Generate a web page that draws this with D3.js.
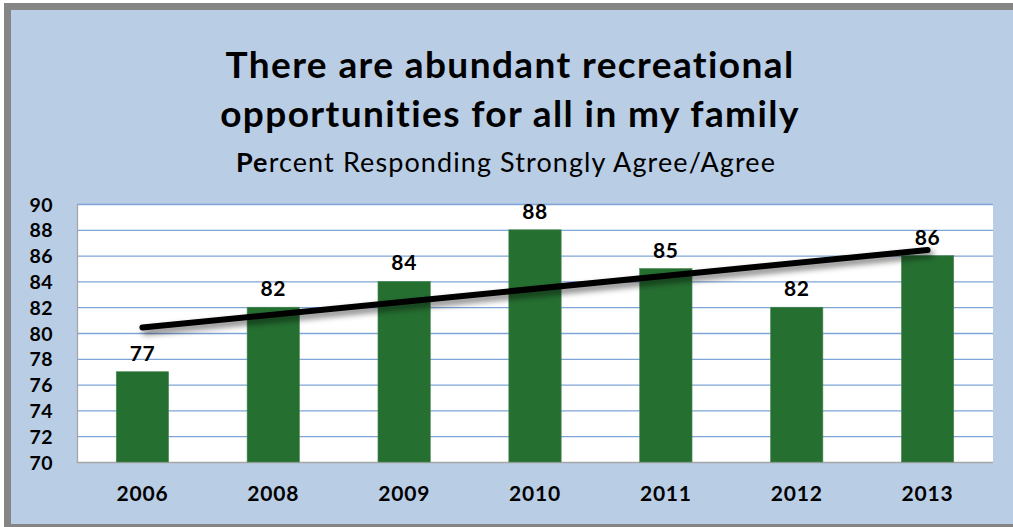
<!DOCTYPE html>
<html>
<head>
<meta charset="utf-8">
<script src="https://cdn.jsdelivr.net/npm/d3@7"></script>
<style>
  html, body { margin: 0; padding: 0; background: #ffffff; }
  svg { display: block; font-family: Lato, "Open Sans", sans-serif; }
</style>
</head>
<body>
<svg id="chart" width="1013" height="527"></svg>
<script>
// Survey results by year
const years = ["2006", "2008", "2009", "2010", "2011", "2012", "2013"];
const percentAgree = [77, 82, 84, 88, 85, 82, 86];
const yTicks = [70, 72, 74, 76, 78, 80, 82, 84, 86, 88, 90];

const titleLines = ["There are abundant recreational", "opportunities for all in my family"];
const subtitleBold = "Pe";
const subtitleRest = "rcent Responding Strongly Agree/Agree";

const W = 1013, H = 527;
const svg = d3.select("#chart");

// drop shadow for the trend line
const defs = svg.append("defs");
const f = defs.append("filter").attr("id", "shadow")
  .attr("x", "-10%").attr("y", "-200%").attr("width", "120%").attr("height", "500%");
f.append("feGaussianBlur").attr("in", "SourceAlpha").attr("stdDeviation", 3).attr("result", "b");
f.append("feOffset").attr("in", "b").attr("dx", 3).attr("dy", 4).attr("result", "o");
f.append("feComponentTransfer").attr("in", "o").attr("result", "s")
  .append("feFuncA").attr("type", "linear").attr("slope", 0.55);
const m = f.append("feMerge");
m.append("feMergeNode").attr("in", "s");
m.append("feMergeNode").attr("in", "SourceGraphic");

// outer frame
svg.append("rect").attr("x", 4).attr("y", 3).attr("width", W + 10).attr("height", H)
  .attr("fill", "#858585");
svg.append("rect").attr("x", 11).attr("y", 10).attr("width", W + 10).attr("height", 514)
  .attr("fill", "#b9cde5");

// plot area
const plot = { left: 77, right: 993, top: 204, bottom: 462 };

const x = d3.scaleBand().domain(years).range([plot.left, plot.right]).paddingInner(0.6).paddingOuter(0.3);
const y = d3.scaleLinear().domain([70, 90]).range([plot.bottom, plot.top]);

svg.append("rect")
  .attr("x", plot.left).attr("y", plot.top)
  .attr("width", plot.right - plot.left).attr("height", plot.bottom - plot.top)
  .attr("fill", "#ffffff");

// horizontal gridlines
svg.append("g").selectAll("line").data(yTicks.filter(t => t > 70)).join("line")
  .attr("x1", plot.left).attr("x2", plot.right)
  .attr("y1", d => y(d) + 0.5).attr("y2", d => y(d) + 0.5)
  .attr("stroke", "#7fa5d6").attr("stroke-width", 1.3);

// axis lines
svg.append("line").attr("x1", plot.left + 0.5).attr("x2", plot.left + 0.5)
  .attr("y1", plot.top).attr("y2", plot.bottom + 1)
  .attr("stroke", "#a6a6a6").attr("stroke-width", 1.3);
svg.append("line").attr("x1", plot.left).attr("x2", plot.right)
  .attr("y1", plot.bottom + 0.5).attr("y2", plot.bottom + 0.5)
  .attr("stroke", "#a6a6a6").attr("stroke-width", 1.5);

// y axis labels
const yAxis = d3.axisLeft(y).tickValues(yTicks).tickSize(0).tickPadding(24);
const gy = svg.append("g").attr("transform", `translate(${plot.left},0)`).call(yAxis);
gy.select(".domain").remove();
gy.selectAll("text").attr("font-family", "Lato, sans-serif").attr("font-size", 19.5)
  .attr("font-weight", "bold").attr("fill", "#000").attr("dy", "0.36em")
  .attr("letter-spacing", 0.5);

// x axis labels
const xAxis = d3.axisBottom(x).tickSize(0).tickPadding(24);
const gx = svg.append("g").attr("transform", `translate(0,${plot.bottom})`).call(xAxis);
gx.select(".domain").remove();
gx.selectAll("text").attr("font-family", "Lato, sans-serif").attr("font-size", 21)
  .attr("font-weight", "bold").attr("fill", "#000").attr("letter-spacing", 0.8);

// bars
const data = years.map((yr, i) => ({ yr, v: percentAgree[i] }));
svg.append("g").selectAll("rect").data(data).join("rect")
  .attr("x", d => x(d.yr)).attr("y", d => y(d.v))
  .attr("width", x.bandwidth()).attr("height", d => plot.bottom - y(d.v))
  .attr("fill", "#256f31").attr("stroke", "#4f8a57").attr("stroke-width", 0.6);

// value labels
svg.append("g").selectAll("text").data(data).join("text")
  .attr("x", d => x(d.yr) + x.bandwidth() / 2).attr("y", d => y(d.v) - 11)
  .attr("text-anchor", "middle").attr("font-size", 21).attr("font-weight", "bold")
  .attr("letter-spacing", 0.6).attr("fill", "#000").text(d => d.v);

// linear trend line (least squares over category index)
const n = percentAgree.length;
const xs = d3.range(n);
const mx = d3.mean(xs), my = d3.mean(percentAgree);
const slope = d3.sum(xs, i => (i - mx) * (percentAgree[i] - my)) / d3.sum(xs, i => (i - mx) ** 2);
const intercept = my - slope * mx;
const cx = i => x(years[i]) + x.bandwidth() / 2;
svg.append("line")
  .attr("x1", cx(0)).attr("y1", y(intercept))
  .attr("x2", cx(n - 1)).attr("y2", y(intercept + slope * (n - 1)))
  .attr("stroke", "#000").attr("stroke-width", 6).attr("stroke-linecap", "round")
  .attr("filter", "url(#shadow)");

// titles
const t = svg.append("text").attr("text-anchor", "middle").attr("font-weight", "bold")
  .attr("font-size", 37).attr("letter-spacing", 1.4).attr("fill", "#000");
t.append("tspan").attr("x", 510).attr("y", 78).text(titleLines[0]);
t.append("tspan").attr("x", 510).attr("y", 127).text(titleLines[1]);

const st = svg.append("text").attr("x", 506).attr("y", 172).attr("text-anchor", "middle")
  .attr("font-size", 27).attr("letter-spacing", 1.1).attr("fill", "#000");
st.append("tspan").attr("font-weight", "bold").text(subtitleBold);
st.append("tspan").text(subtitleRest);
</script>
</body>
</html>
